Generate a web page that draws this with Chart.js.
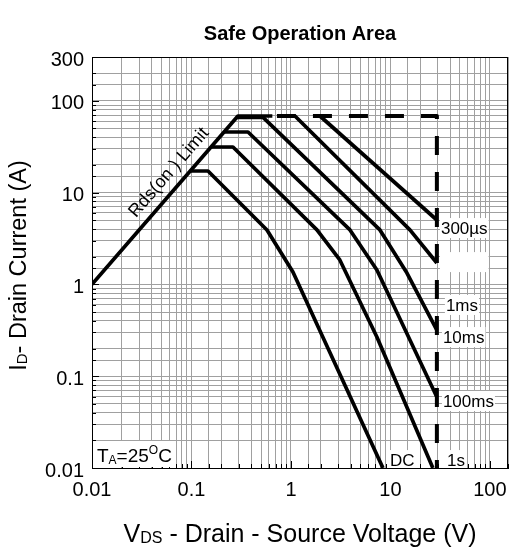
<!DOCTYPE html>
<html>
<head>
<meta charset="utf-8">
<script src="https://cdn.jsdelivr.net/npm/chart.js@4.4.0/dist/chart.umd.min.js"></script>
<style>
  html, body { margin: 0; padding: 0; background: #fff; }
</style>
</head>
<body>
<canvas id="soa" width="509" height="550"></canvas>
<script>
// V_DS (V) and I_D (A)
var rdsV = [0.01, 0.293, 0.65];
var rdsI = [1, 68.3, 68.3];
var dcV = [0.0973, 0.1466, 0.574, 1.047, 8.41];
var dcI = [17.2, 17.2, 3.92, 1.365, 0.01];
var s1V = [0.158, 0.2612, 1.825, 3.10, 7.31, 26.7];
var s1I = [31.4, 31.4, 3.92, 1.845, 0.267, 0.01];
var ms100V = [0.213, 0.370, 3.92, 7.31, 29.3];
var ms100I = [45.7, 45.7, 3.92, 1.435, 0.0593];
var ms10V = [0.286, 0.524, 7.84, 14.66, 29.3];
var ms10I = [66, 66, 3.92, 1.33, 0.318];
var ms1V = [1.097, 15.7, 29.3];
var ms1I = [68.3, 3.92, 1.71];
var us300V = [1.956, 29.3];
var us300I = [68.3, 5.03];
var limitV = [0.723, 29.3, 29.3];
var limitI = [68.3, 68.3, 0.01];

// curve labels (blank one is a white box in the original)
var curveLabels = ['300\u00b5s', '', '1ms', '10ms', '100ms', '1s', 'DC'];
var labelV = [32.2, 32.2, 36.1, 33.7, 33.7, 37, 9.9];
var labelI = [4.11, 1.75, 0.597, 0.267, 0.0537, 0.0122, 0.0122];
var rdsLabelV = 0.0773, rdsLabelI = 12.9;

var xTicks = [0.01, 0.1, 1, 10, 100];
var xTickText = ['0.01', '0.1', '1', '10', '100'];
var yTicks = [0.01, 0.1, 1, 10, 100, 300];
var yTickText = ['0.01', '0.1', '1', '10', '100', '300'];

var FONT = "Arial, 'Liberation Sans', Helvetica, sans-serif";

function pts(v, i) {
  return v.map(function (x, k) { return { x: x, y: i[k] }; });
}

function tickIndex(v, list) {
  for (var k = 0; k < list.length; k++) {
    if (Math.abs(Math.log10(v) - Math.log10(list[k])) < 1e-6) return k;
  }
  return -1;
}

function line(v, i, dash) {
  return {
    data: pts(v, i),
    borderColor: '#000',
    borderWidth: dash ? 4 : 3.7,
    borderDash: dash ? [19, 17] : [],
    borderJoinStyle: 'round',
    pointRadius: 0,
    fill: false,
    tension: 0
  };
}

// draw text made of parts of different size on one baseline
function drawParts(ctx, parts, x, y) {
  var total = 0;
  parts.forEach(function (p) {
    ctx.font = p.s + 'px ' + FONT;
    p.w = ctx.measureText(p.t).width;
    total += p.w;
  });
  var cx = x - total / 2;
  parts.forEach(function (p) {
    ctx.font = p.s + 'px ' + FONT;
    ctx.fillText(p.t, cx, y + (p.dy || 0));
    cx += p.w;
  });
}

var decor = {
  id: 'decor',
  beforeDatasetsDraw: function (chart) {
    var ctx = chart.ctx, a = chart.chartArea;
    var xs = chart.scales.x, ys = chart.scales.y;
    ctx.save();
    ctx.strokeStyle = '#000';
    ctx.lineWidth = 1;
    ctx.beginPath();
    ys.ticks.forEach(function (t) {
      var py = Math.round(ys.getPixelForValue(t.value)) + 0.5;
      var len = tickIndex(t.value, yTicks) >= 0 ? 7 : 4;
      ctx.moveTo(a.left, py);
      ctx.lineTo(a.left + len, py);
    });
    xs.ticks.forEach(function (t) {
      var px = Math.round(xs.getPixelForValue(t.value)) + 0.5;
      var len = tickIndex(t.value, xTicks) >= 0 ? 7 : 4;
      ctx.moveTo(px, a.bottom);
      ctx.lineTo(px, a.bottom - len);
    });
    ctx.stroke();
    ctx.restore();
  },
  afterDatasetsDraw: function (chart) {
    var ctx = chart.ctx, a = chart.chartArea;
    var xs = chart.scales.x, ys = chart.scales.y;
    ctx.save();

    // curve labels on white
    ctx.font = '17px ' + FONT;
    ctx.textBaseline = 'middle';
    ctx.textAlign = 'left';
    var blankW = ctx.measureText('300\u00b5s').width;
    curveLabels.forEach(function (txt, k) {
      var px = xs.getPixelForValue(labelV[k]);
      var py = ys.getPixelForValue(labelI[k]);
      var w = txt ? ctx.measureText(txt).width : blankW;
      ctx.fillStyle = '#fff';
      ctx.fillRect(px - 1, py - 10, w + 2, 20);
      ctx.fillStyle = '#000';
      if (txt) ctx.fillText(txt, px, py + 1);
    });

    // TA=25°C box
    ctx.textBaseline = 'alphabetic';
    var base = a.bottom - 6;
    var parts = [
      { t: 'T', s: 19 }, { t: 'A', s: 12, dy: 2 }, { t: '=25', s: 19 },
      { t: 'O', s: 12, dy: -8 }, { t: 'C', s: 19 }
    ];
    var tw = 0;
    parts.forEach(function (p) { ctx.font = p.s + 'px ' + FONT; tw += ctx.measureText(p.t).width; });
    ctx.fillStyle = '#fff';
    ctx.fillRect(a.left + 1, base - 21, tw + 7, a.bottom - base + 20);
    ctx.fillStyle = '#000';
    drawParts(ctx, parts, a.left + 5 + tw / 2, base);

    // Rds(on) Limit along the line
    var p0x = xs.getPixelForValue(rdsV[0]), p0y = ys.getPixelForValue(rdsI[0]);
    var p1x = xs.getPixelForValue(rdsV[1]), p1y = ys.getPixelForValue(rdsI[1]);
    var ang = Math.atan2(p1y - p0y, p1x - p0x);
    var ax = xs.getPixelForValue(rdsLabelV), ay = ys.getPixelForValue(rdsLabelI);
    ctx.translate(ax + 15 * Math.sin(ang), ay - 15 * Math.cos(ang));
    ctx.rotate(ang);
    ctx.font = '18px ' + FONT;
    ctx.textAlign = 'center';
    ctx.textBaseline = 'middle';
    ctx.fillText('Rds(on ) Limit', 0, 0);
    ctx.restore();

    // frame
    ctx.save();
    ctx.strokeStyle = '#000';
    ctx.lineWidth = 1;
    ctx.strokeRect(Math.round(a.left) + 0.5, Math.round(a.top) + 0.5,
      Math.round(a.right) - Math.round(a.left) - 1, Math.round(a.bottom) - Math.round(a.top));
    ctx.restore();
  },
  afterDraw: function (chart) {
    var ctx = chart.ctx, a = chart.chartArea;
    ctx.save();
    ctx.fillStyle = '#000';
    ctx.textAlign = 'left';
    ctx.textBaseline = 'alphabetic';
    drawParts(ctx, [
      { t: 'V', s: 25 }, { t: 'DS', s: 16, dy: 1 },
      { t: ' - Drain - Source Voltage (V)', s: 25 }
    ], (a.left + a.right) / 2, 542);
    ctx.translate(26, (a.top + a.bottom) / 2 + 3);
    ctx.rotate(-Math.PI / 2);
    drawParts(ctx, [
      { t: 'I', s: 23.5 }, { t: 'D', s: 15, dy: 1 },
      { t: '- Drain Current (A)', s: 23.5 }
    ], 0, 0);
    ctx.restore();
  }
};

var gridOpts = { color: '#a0a0a0', lineWidth: 1, drawTicks: false };

new Chart(document.getElementById('soa').getContext('2d'), {
  type: 'line',
  data: {
    datasets: [
      line(rdsV, rdsI),
      line(dcV, dcI),
      line(s1V, s1I),
      line(ms100V, ms100I),
      line(ms10V, ms10I),
      line(ms1V, ms1I),
      line(us300V, us300I),
      line(limitV, limitI, true)
    ]
  },
  options: {
    responsive: false,
    animation: false,
    devicePixelRatio: 1,
    layout: { padding: { left: 0, right: 1, top: 0, bottom: 0 } },
    plugins: {
      legend: { display: false },
      tooltip: { enabled: false },
      title: {
        display: true,
        fullSize: false,
        text: 'Safe Operation Area',
        color: '#000',
        font: { family: FONT, size: 20, weight: 'bold' },
        padding: { top: 22, bottom: 11 }
      }
    },
    scales: {
      x: {
        type: 'logarithmic',
        min: 0.01,
        max: 152,
        grid: gridOpts,
        border: { color: '#000', width: 1 },
        ticks: {
          autoSkip: false,
          maxRotation: 0,
          padding: 10,
          color: '#000',
          font: { family: FONT, size: 20 },
          callback: function (v) { var k = tickIndex(v, xTicks); return k < 0 ? '' : xTickText[k]; }
        },
        afterFit: function (s) { s.height = 82; s.paddingLeft = 0; s.paddingRight = 0; }
      },
      y: {
        type: 'logarithmic',
        min: 0.01,
        max: 300,
        grid: gridOpts,
        border: { color: '#000', width: 1 },
        ticks: {
          autoSkip: false,
          padding: 8,
          labelOffset: 3,
          color: '#000',
          font: { family: FONT, size: 20 },
          callback: function (v) { var k = tickIndex(v, yTicks); return k < 0 ? '' : yTickText[k]; }
        },
        afterFit: function (s) { s.width = 92; s.paddingTop = 0; s.paddingBottom = 0; }
      }
    }
  },
  plugins: [decor]
});
</script>
</body>
</html>
